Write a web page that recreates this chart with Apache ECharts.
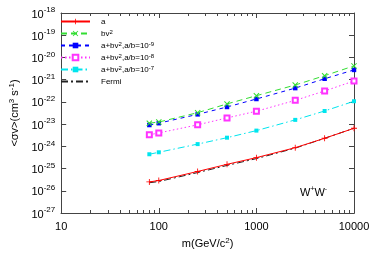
<!DOCTYPE html>
<html><head><meta charset="utf-8">
<script src="https://cdn.jsdelivr.net/npm/echarts@6/dist/echarts.min.js"></script>
<style>html,body{margin:0;padding:0;background:#fff}#c{width:374px;height:262px}</style>
</head><body><div id="c"></div>
<script>
// ---- data ----
const masses = [80, 100, 250, 500, 1000, 2500, 5000, 10000];
const seriesA      = [2.5e-26, 2.9e-26, 7.4e-26, 1.55e-25, 3.1e-25, 8.7e-25, 2.3e-24, 6.5e-24];
const seriesBv2    = [1.10e-23, 1.24e-23, 3.27e-23, 8.1e-23, 1.9e-22, 5.75e-22, 1.51e-21, 4.17e-21];
const seriesAb9    = [9.1e-24, 1.10e-23, 2.75e-23, 5.9e-23, 1.35e-22, 4.17e-22, 1.10e-21, 2.75e-21];
const seriesAb8    = [3.3e-24, 4.0e-24, 9.3e-24, 1.9e-23, 3.8e-23, 1.17e-22, 3.1e-22, 8.7e-22];
const seriesAb7    = [4.4e-25, 5.4e-25, 1.26e-24, 2.45e-24, 5.1e-24, 1.55e-23, 3.9e-23, 1.07e-22];
const seriesFermi  = [2.3e-26, 2.6e-26, 6.6e-26, 1.38e-25, 2.8e-25, 8.3e-25, 2.3e-24, 6.5e-24];
const seriesNames  = ['a', 'bv2', 'ab9', 'ab8', 'ab7', 'Fermi'];
const legendLabels = ['a', 'bv{s|2}', 'a+bv{s|2},a/b=10{s|-9}', 'a+bv{s|2},a/b=10{s|-8}', 'a+bv{s|2},a/b=10{s|-7}', 'Fermi'];
const xTicks = [10, 100, 1000, 10000];
const xMinorTicks = [20,30,40,50,60,70,80,90,200,300,400,500,600,700,800,900,2000,3000,4000,5000,6000,7000,8000,9000];
const yTicks = [1e-27,1e-26,1e-25,1e-24,1e-23,1e-22,1e-21,1e-20,1e-19,1e-18];

const FONT = 'Liberation Sans, Arial, sans-serif';
const AX = '#444';
const supRich = {
  b: {fontSize: 11, fontFamily: FONT, color: '#000', verticalAlign: 'bottom', lineHeight: 14},
  s: {fontSize: 8, fontFamily: FONT, color: '#000', verticalAlign: 'top', lineHeight: 14}
};
const pair = a => masses.map((m, i) => [m, a[i]]);
const plusPath = 'path://M4.3,0H5.7V10H4.3ZM0,4.3H10V5.7H0Z';
const crossPath = 'path://M0,1.2L1.2,0L10,8.8L8.8,10ZM8.8,0L10,1.2L1.2,10L0,8.8Z';

const chart = echarts.init(document.getElementById('c'), null, {renderer: 'canvas'});
const gridBox = {left: 56, right: 20, top: 13, bottom: 49};
function xAx(pos, minor, labels) {
  return {
    type: 'log', logBase: 10, min: 10, max: 10000, position: pos, gridIndex: 0,
    axisLine: {show: true, onZero: false, lineStyle: {color: AX, width: 1}},
    axisTick: {show: true, inside: true, length: minor ? 3 : 5, lineStyle: {color: AX},
      customValues: minor ? xMinorTicks : xTicks},
    axisLabel: labels ? {show: true, customValues: xTicks, fontSize: 11, fontFamily: FONT, color: '#000', margin: 8,
      formatter: v => String(Math.round(v))} : {show: false},
    splitLine: {show: false}, minorTick: {show: false},
    name: labels ? 'm(GeV/c{s|2})' : '', nameLocation: 'middle', nameGap: 24,
    nameTextStyle: {fontSize: 11, fontFamily: FONT, color: '#000', rich: {s: {fontSize: 8, verticalAlign: 'top', lineHeight: 14, fontFamily: FONT}}}
  };
}
function yAx(pos, labels) {
  return {
    type: 'log', logBase: 10, min: 1e-27, max: 1e-18, position: pos, gridIndex: 0,
    axisLine: {show: true, onZero: false, lineStyle: {color: AX, width: 1}},
    axisTick: {show: true, inside: true, length: 5, lineStyle: {color: AX}, customValues: yTicks},
    axisLabel: labels ? {show: true, customValues: yTicks, margin: 6, rich: supRich,
      formatter: v => '{b|10}{s|' + Math.round(Math.log10(v)) + '}'} : {show: false},
    splitLine: {show: false},
    name: labels ? '<σv>(cm{s|3} s{s|-1})' : '', nameLocation: 'middle', nameGap: 37, nameRotate: 90,
    nameTextStyle: {fontSize: 11, fontFamily: FONT, color: '#000', rich: {s: {fontSize: 8, verticalAlign: 'top', lineHeight: 14, fontFamily: FONT}}}
  };
}
function ser(name, data, color, type, symbol, size, z, item) {
  return {
    name, type: 'line', xAxisIndex: 0, yAxisIndex: 0, data: pair(data), z,
    symbol, symbolSize: size, showSymbol: symbol !== 'none',
    lineStyle: {color, width: 1, type},
    itemStyle: item || {color, borderColor: color, borderWidth: 0},
    emphasis: {disabled: true}, animation: false
  };
}
chart.setOption({
  backgroundColor: '#fff',
  animation: false,
  grid: gridBox,
  xAxis: [xAx('bottom', false, true), xAx('bottom', true, false), xAx('top', false, false), xAx('top', true, false)],
  yAxis: [yAx('left', true), yAx('right', false)],
  legend: {
    orient: 'vertical', left: 55, top: 12, itemWidth: 29, itemHeight: 7, itemGap: 3,
    data: seriesNames.map(n => n === 'Fermi' ? {name: n, itemStyle: {opacity: 0}} : n),
    textStyle: {fontSize: 8, fontFamily: FONT, color: '#000', lineHeight: 9, padding: [0, 0, 0, 6],
      rich: {s: {fontSize: 6, verticalAlign: 'top', lineHeight: 9, fontFamily: FONT}}},
    formatter: n => legendLabels[seriesNames.indexOf(n)]
  },
  graphic: [{type: 'text', left: 300, top: 186,
    style: {text: 'W{s|+}W{s|-}', fontSize: 11, fontFamily: FONT, fill: '#000',
      rich: {s: {fontSize: 7, verticalAlign: 'top', lineHeight: 13, fontFamily: FONT}}}}],
  series: [
    ser('Fermi', seriesFermi, '#222', [7, 3, 2, 3], 'none', 0, 2),
    ser('a', seriesA, '#ff0000', 'solid', plusPath, 6, 3),
    ser('bv2', seriesBv2, '#33dd33', [6, 4], crossPath, 6, 4),
    ser('ab9', seriesAb9, '#0000ff', [4, 4], 'rect', 4.5, 3),
    ser('ab8', seriesAb8, '#ff33ff', [1.5, 2.5], 'emptyRect', 5, 3,
        {color: '#ff33ff', borderColor: '#ff33ff', borderWidth: 1.3}),
    ser('ab7', seriesAb7, '#00e5ee', [7, 3, 1.5, 3], 'rect', 4, 3)
  ]
});
</script></body></html>
